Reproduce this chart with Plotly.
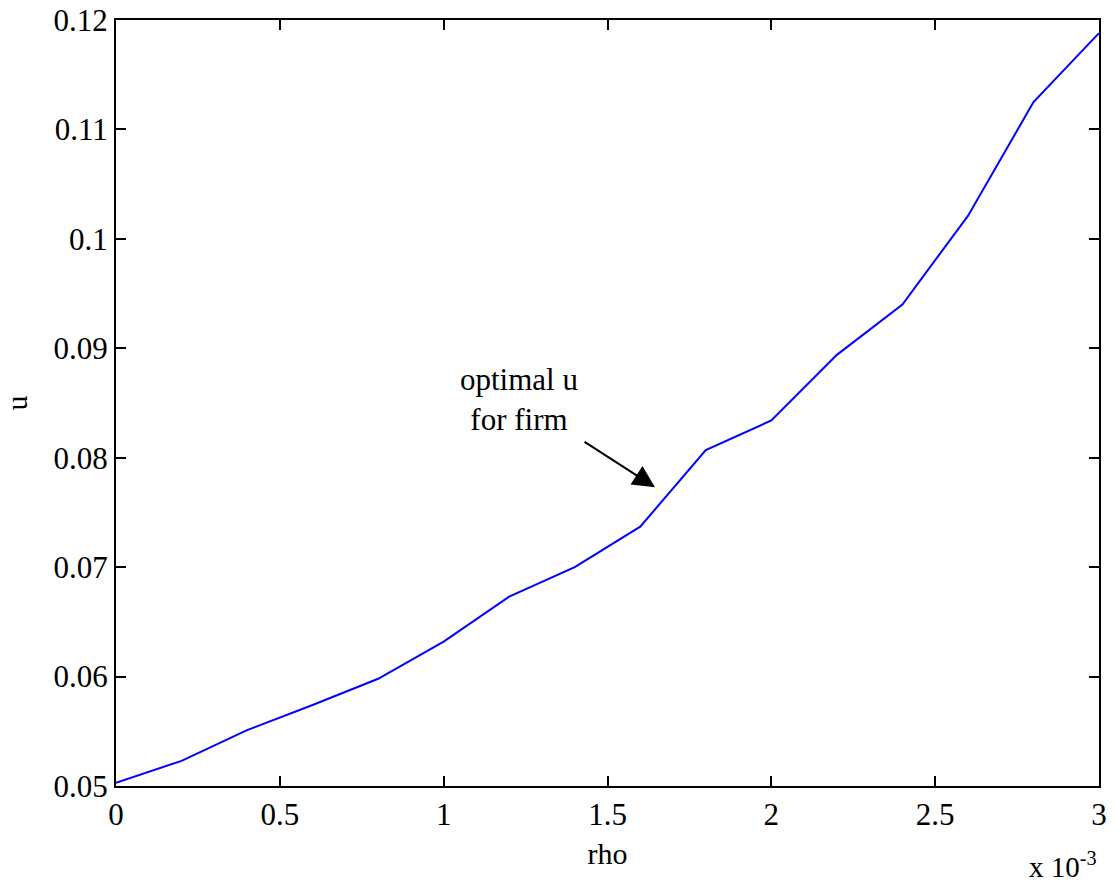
import plotly.graph_objects as go

# data (rho in units of 1e-3)
rho = [0.0, 0.2, 0.4, 0.6, 0.8, 1.0, 1.2, 1.4, 1.6, 1.8, 2.0, 2.2, 2.4, 2.6, 2.8, 3.0]
u_opt = [0.0503, 0.0523, 0.0551, 0.0574, 0.0598, 0.0632, 0.0673, 0.0700, 0.0737,
         0.0807, 0.0834, 0.0894, 0.0940, 0.1021, 0.1125, 0.1188]

x_tickvals = [0, 0.5, 1, 1.5, 2, 2.5, 3]
x_ticktext = ["0", "0.5", "1", "1.5", "2", "2.5", "3"]
y_tickvals = [0.05, 0.06, 0.07, 0.08, 0.09, 0.10, 0.11, 0.12]
y_ticktext = ["0.05", "0.06", "0.07", "0.08", "0.09", "0.1", "0.11", "0.12"]

FONT = "Liberation Serif"

fig = go.Figure()
fig.add_trace(go.Scatter(x=rho, y=u_opt, mode="lines",
                         line=dict(color="#0000ff", width=2), showlegend=False))

axis_common = dict(showline=True, linecolor="black", linewidth=2, mirror="ticks",
                   ticks="inside", ticklen=10, tickwidth=1.5, tickcolor="black",
                   showgrid=False, zeroline=False, automargin=False,
                   tickfont=dict(family=FONT, size=31, color="black"))

fig.update_xaxes(range=[0, 3], tickvals=x_tickvals, ticktext=x_ticktext,
                 title=dict(text="rho", font=dict(family=FONT, size=30, color="black"), standoff=12),
                 **axis_common)
fig.update_yaxes(range=[0.05, 0.12], tickvals=y_tickvals, ticktext=y_ticktext,
                 title=dict(text="u", font=dict(family=FONT, size=30, color="black"), standoff=22),
                 **axis_common)

# annotation text with arrow (text centred at the tail)
fig.add_annotation(x=1.645, y=0.0773, ax=1.23, ay=0.0853, xref="x", yref="y",
                   axref="x", ayref="y", text="optimal u<br>for firm", showarrow=True,
                   arrowhead=2, arrowsize=2.2, arrowwidth=2, arrowcolor="black",
                   standoff=0, startstandoff=6,
                   font=dict(family=FONT, size=31, color="black"), align="center")
# exponent
fig.add_annotation(x=1.0, y=-0.103, xref="paper", yref="paper", xanchor="right",
                   yanchor="middle", text="x 10<sup>-3</sup>", showarrow=False,
                   font=dict(family=FONT, size=29, color="black"))

fig.update_layout(width=1115, height=890, paper_bgcolor="white", plot_bgcolor="white",
                  margin=dict(l=116, r=16, t=20, b=104, autoexpand=False))

fig.write_html("out.html")
